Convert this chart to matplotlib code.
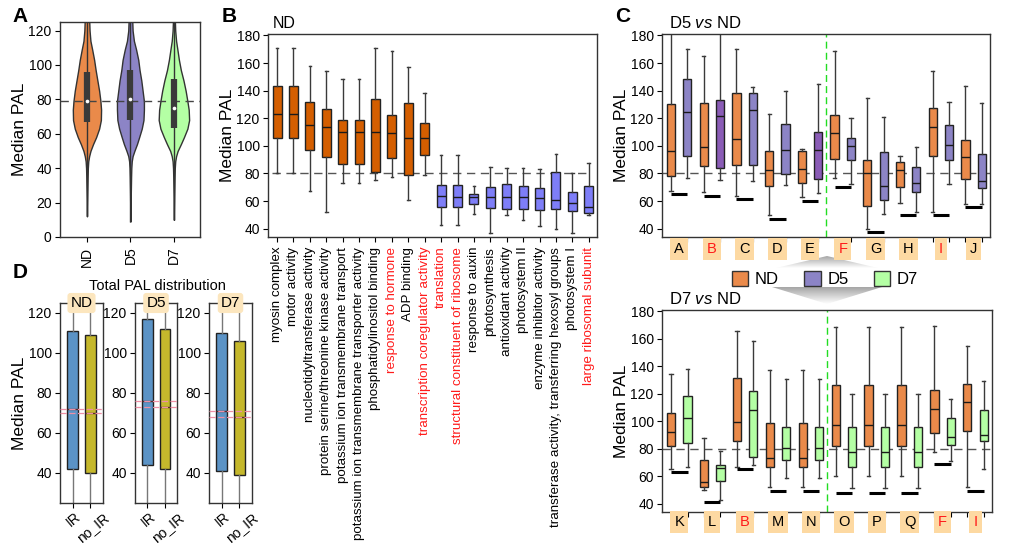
import numpy as np
import matplotlib
matplotlib.use("Agg")
import matplotlib.pyplot as plt
from matplotlib.patches import Patch, Polygon
from matplotlib.colors import LinearSegmentedColormap
import matplotlib.transforms as mtransforms

plt.rcParams['font.family'] = ['Liberation Sans', 'DejaVu Sans']
plt.rcParams['mathtext.fontset'] = 'custom'
plt.rcParams['mathtext.rm'] = 'Liberation Sans'
plt.rcParams['mathtext.it'] = 'Liberation Sans:italic'
plt.rcParams['axes.linewidth'] = 1.0
plt.rcParams['axes.edgecolor'] = '#333333'
plt.rcParams['xtick.labelsize'] = 10
plt.rcParams['ytick.labelsize'] = 10
plt.rcParams['xtick.major.size'] = 3.5
plt.rcParams['ytick.major.size'] = 3.5
plt.rcParams['ytick.major.pad'] = 2.5

# ------------------------------------------------------------------ data
# Panel A: violin outlines (y level, half width) and inner box stats
a_groups = ['ND', 'D5', 'D7']
a_y_nd = [12, 25, 35, 40, 44, 47, 50, 54, 58, 63, 68, 74, 79, 85, 91, 97, 103, 109, 114, 120, 127]
a_w_nd = [0, .008, .015, .02, .03, .05, .08, .14, .21, .28, .32, .325, .31, .28, .24, .20, .165, .12, .08, .06, .05]
a_y_d5 = [9, 25, 35, 40, 44, 47, 50, 54, 58, 63, 68, 74, 79, 85, 91, 97, 103, 109, 114, 120, 127]
a_w_d5 = [0, .008, .015, .02, .03, .05, .09, .15, .20, .26, .30, .31, .31, .28, .25, .21, .18, .13, .08, .05, .04]
a_y_d7 = [10, 25, 35, 40, 44, 47, 50, 54, 58, 63, 68, 74, 79, 85, 91, 97, 103, 109, 114, 120, 127]
a_w_d7 = [0, .008, .015, .02, .03, .05, .085, .16, .23, .31, .35, .34, .31, .27, .22, .16, .115, .08, .05, .03, .02]
a_q1 = [67, 68, 63.5]
a_med = [79, 80, 75]
a_q3 = [96, 97, 92]
a_ref = 79

# Panel B: GO terms (whislo, q1, med, q3, whishi)
b_terms = ['myosin complex', 'motor activity', 'nucleotidyltransferase activity',
           'protein serine/threonine kinase activity', 'potassium ion transmembrane transport',
           'potassium ion transmembrane transporter activity', 'phosphatidylinositol binding',
           'response to hormone', 'ADP binding', 'transcription coregulator activity',
           'translation', 'structural constituent of ribosome', 'response to auxin',
           'photosynthesis', 'antioxidant activity', 'photosystem II', 'enzyme inhibitor activity',
           'transferase activity, transferring hexosyl groups', 'photosystem I',
           'large ribosomal subunit']
b_red = ['response to hormone', 'transcription coregulator activity', 'translation',
         'structural constituent of ribosome', 'large ribosomal subunit']
b_whislo = [80, 80, 67, 52, 73, 73, 75, 77.5, 61, 79, 43, 43, 51, 37, 50, 46, 42, 40, 37, 50]
b_q1 = [106, 106, 97, 92, 87, 87, 81, 91, 79, 93.5, 56, 56, 58, 55, 54, 54, 53.5, 54.5, 53, 51.5]
b_med = [123, 123, 115, 114, 110, 110, 110, 109, 106, 106, 64, 63, 63, 63, 63, 63, 62, 61, 58.5, 55.5]
b_q3 = [143, 143, 132, 127, 119, 119, 134, 122, 131, 116.5, 72, 72, 65, 70, 72.5, 71, 69.5, 81, 66.5, 71]
b_whishi = [171, 171, 158, 154.5, 148.5, 148.5, 171, 168.5, 157, 138, 93.5, 93.5, 71, 85, 84, 84, 83, 94, 80, 87.5]

# Panel C top: D5 vs ND
c1_groups = ['A', 'B', 'C', 'D', 'E', 'F', 'G', 'H', 'I', 'J']
c1_nd_whislo = [67, 66.5, 63.5, 50, 63, 77, 40, 58.7, 52, 58]
c1_nd_q1 = [78, 85.5, 86.3, 71, 73, 90.7, 56.3, 70, 92.3, 76]
c1_nd_med = [96, 99, 105, 82.3, 83.5, 109, 80, 82.7, 113.7, 92]
c1_nd_q3 = [130, 131, 138, 96.5, 96, 122.4, 90, 88, 127.2, 104]
c1_nd_whishi = [185, 165, 170, 123, 97.6, 168.5, 135, 93, 154.3, 143.7]
c1_d5_whislo = [76.7, 75.5, 74.8, 71.7, 66, 72.7, 51, 52, 72.7, 58]
c1_d5_q1 = [92.8, 84, 86, 79.4, 76.3, 89.7, 60.6, 66.6, 89.5, 69.5]
c1_d5_med = [124.5, 121.6, 126, 97, 96.7, 100, 70.7, 73, 100.7, 74.8]
c1_d5_q3 = [148.3, 133, 138.5, 115.6, 110, 105.8, 95.7, 85, 115.2, 94.3]
c1_d5_whishi = [170, 185, 142.3, 139.7, 145, 120, 121, 99.5, 132, 130.8]
c1_floor = [65.2, 64, 61.6, 47.2, 60.4, 70, 37.6, 49.6, 49.6, 55.6]

# Panel C bottom: D7 vs ND
c2_groups = ['K', 'L', 'B', 'M', 'N', 'O', 'P', 'Q', 'F', 'I']
c2_nd_whislo = [65, 50.2, 67, 52, 52, 60, 60, 60, 77.8, 52]
c2_nd_q1 = [82, 52, 86, 67, 67, 82, 82, 82, 91.2, 92.7]
c2_nd_med = [92, 55.8, 99.3, 73, 73, 97.2, 97.2, 97.2, 109.2, 114]
c2_nd_q3 = [106.3, 71.5, 131.4, 99, 99, 126.6, 126.6, 126.6, 122.6, 127.4]
c2_nd_whishi = [134.3, 87.8, 165.4, 137.6, 137.6, 168.5, 168.5, 168.5, 169, 155]
c2_d7_whislo = [67, 43, 68.2, 58.5, 58.5, 51.3, 51.3, 51.3, 71.4, 65.6]
c2_d7_q1 = [84.2, 56.2, 74.2, 72.2, 72.2, 66.8, 66.8, 66.8, 82.4, 86]
c2_d7_med = [102.3, 65.8, 108.4, 80.5, 80.5, 78, 78, 78, 88.8, 90.3]
c2_d7_q3 = [118.3, 68.2, 122, 96.1, 96.1, 96, 96, 96, 102.5, 108]
c2_d7_whishi = [137.9, 78.5, 158.5, 131, 131, 119.9, 119.9, 119.9, 116.3, 129]
c2_floor = [63, 41.2, 65.6, 49.6, 49.6, 48.1, 48.1, 48.1, 68.7, 49.3]
c_red = ['B', 'F', 'I']

# Panel D: total PAL distribution
d_days = ['ND', 'D5', 'D7']
d_cats = ['IR', 'no_IR']
d_ir_q1 = [42, 44, 41]
d_ir_med = [72, 76, 71]
d_ir_q3 = [111, 117, 110]
d_noir_q1 = [40, 42, 39]
d_noir_med = [70, 73, 68]
d_noir_q3 = [109, 112, 106]
d_whislo = [5, 5, 5]
d_whishi = [150, 150, 150]

# ------------------------------------------------------------------ styles
C_ND = '#EA8A4A'
C_D5 = '#8C84C6'
C_D5_DARK = '#8A5CB6'
C_D7 = '#B4FFA4'
C_B_ORANGE = '#D45E00'
C_B_BLUE = '#7E7EF8'
C_IR = '#5B93C6'
C_NOIR = '#C5B82C'
LBL_BG = '#FDD9A2'
DASH = (0, (6, 4))
YL = dict(fontsize=12.5, labelpad=1)

W, H = 1027, 543
fig = plt.figure(figsize=(W / 100, H / 100), dpi=100)


def rect(x0, y0, x1, y1):
    return [x0 / W, 1 - y1 / H, (x1 - x0) / W, (y1 - y0) / H]


def make_stats(lo, q1, med, q3, hi):
    return [dict(whislo=a, q1=b, med=c, q3=d, whishi=e) for a, b, c, d, e in zip(lo, q1, med, q3, hi)]


def boxes(ax, stats, positions, colors, width, capw, whis_col='#3a3a3a', med_col='#1a1a1a'):
    r = ax.bxp(stats, positions=positions, widths=width, patch_artist=True, showfliers=False,
               boxprops=dict(edgecolor='#222222', linewidth=1.0),
               medianprops=dict(color=med_col, linewidth=1.0),
               whiskerprops=dict(color=whis_col, linewidth=1.0),
               capprops=dict(color=whis_col, linewidth=1.0),
               capwidths=capw, manage_ticks=False)
    for b, c in zip(r['boxes'], colors):
        b.set_facecolor(c)
    return r


# ------------------------------------------------------------------ Panel A
axA = fig.add_axes(rect(60, 22, 200, 237))
vys = [a_y_nd, a_y_d5, a_y_d7]
vws = [a_w_nd, a_w_d5, a_w_d7]
vcols = [C_ND, C_D5, C_D7]
for i in range(3):
    y = np.array(vys[i])
    w = np.array(vws[i])
    axA.fill_betweenx(y, i - w, i + w, facecolor=vcols[i], edgecolor='#333333', linewidth=1.0, zorder=2)
    axA.vlines(i, y[0], y[-1], color='#333333', linewidth=1.0, zorder=3)
    axA.vlines(i, a_q1[i], a_q3[i], color='#3a3a3a', linewidth=4.5, zorder=4)
    axA.scatter([i], [a_med[i]], s=7, color='white', zorder=5, linewidths=0)
axA.axhline(a_ref, color='#444444', linestyle=DASH, linewidth=1.0, zorder=3)
axA.set_xlim(-0.62, 2.6)
axA.set_ylim(0, 125)
axA.set_yticks(range(0, 121, 20))
axA.set_xticks(range(3))
axA.set_xticklabels(a_groups, rotation=90)
axA.set_ylabel('Median PAL', **YL)

# ------------------------------------------------------------------ Panel B
axB = fig.add_axes(rect(268, 34, 597, 237))
nB = len(b_terms)
bcols = [C_B_ORANGE] * 10 + [C_B_BLUE] * 10
boxes(axB, make_stats(b_whislo, b_q1, b_med, b_q3, b_whishi), list(range(nB)), bcols, 0.55, 0.16)
axB.hlines(80, -0.3, nB - 1, color='#555555', linestyle=DASH, linewidth=1.0, zorder=0.5)
axB.set_xlim(-0.55, nB - 0.5)
axB.set_ylim(34, 181)
axB.set_yticks(range(40, 181, 20))
axB.set_xticks(range(nB))
axB.set_xticklabels(b_terms, rotation=90, fontsize=9.6)
for t in axB.get_xticklabels():
    if t.get_text() in b_red:
        t.set_color('#FF1A1A')
axB.set_ylabel('Median PAL', **YL)
axB.text(0.015, 1.015, 'ND', transform=axB.transAxes, fontsize=11.5, ha='left', va='bottom')


# ------------------------------------------------------------------ Panel C
def panel_c(ax, groups, nd, other, other_cols, floor, title, lab_y):
    n = len(groups)
    pos_nd = [2 * i for i in range(n)]
    pos_o = [2 * i + 1 for i in range(n)]
    boxes(ax, make_stats(*nd), pos_nd, [C_ND] * n, 0.5, 0.2)
    boxes(ax, make_stats(*other), pos_o, other_cols, 0.5, 0.2)
    ax.axhline(80, color='#555555', linestyle=DASH, linewidth=1.0, zorder=0.5)
    ax.axvline(2 * n / 2 - 0.5, color='#22DD22', linestyle=(0, (5, 3)), linewidth=1.0, zorder=0.6)
    ax.hlines(floor, pos_nd, pos_o, color='black', linewidth=2.2, zorder=3)
    ax.set_xlim(-0.55, 2 * n - 0.5)
    ax.set_ylim(34, 181)
    ax.set_yticks(range(40, 181, 20))
    ax.set_xticks(range(2 * n))
    ax.set_xticklabels([])
    ax.set_ylabel('Median PAL', **YL)
    tr = mtransforms.blended_transform_factory(ax.transData, ax.transAxes)
    for i, g in enumerate(groups):
        t = ax.text(2 * i + 0.5, lab_y, g, transform=tr, ha='center', va='center', fontsize=10.5,
                    color='#FF1A1A' if g in c_red else 'black',
                    bbox=dict(boxstyle='square,pad=0.28', facecolor=LBL_BG, edgecolor='none'))
        t.set_clip_on(False)
    ax.text(0.02, 1.015, title, transform=ax.transAxes, fontsize=12, ha='left', va='bottom')


axC1 = fig.add_axes(rect(662, 34, 990, 237))
c1_cols = [C_D5_DARK if g in ('B', 'E') else C_D5 for g in c1_groups]
panel_c(axC1, c1_groups,
        (c1_nd_whislo, c1_nd_q1, c1_nd_med, c1_nd_q3, c1_nd_whishi),
        (c1_d5_whislo, c1_d5_q1, c1_d5_med, c1_d5_q3, c1_d5_whishi),
        c1_cols, c1_floor, r'D5 $\mathit{vs}$ ND', -0.06)

axC2 = fig.add_axes(rect(662, 310, 992, 512))
panel_c(axC2, c2_groups,
        (c2_nd_whislo, c2_nd_q1, c2_nd_med, c2_nd_q3, c2_nd_whishi),
        (c2_d7_whislo, c2_d7_q1, c2_d7_med, c2_d7_q3, c2_d7_whishi),
        [C_D7] * len(c2_groups), c2_floor, r'D7 $\mathit{vs}$ ND', -0.05)

# gradient arrow behind legend
ov = fig.add_axes([0, 0, 1, 1], zorder=-1)
ov.set_xlim(0, W)
ov.set_ylim(H, 0)
ov.axis('off')
ov.patch.set_visible(False)
cmap = LinearSegmentedColormap.from_list('g', ['#ffffff', '#a5a5a5'])
grad = np.linspace(0, 1, 64).reshape(-1, 1)
top = Polygon([(776, 268), (827, 256), (878, 268)], closed=True, transform=ov.transData)
im1 = ov.imshow(grad[::-1], extent=(776, 878, 268, 256), cmap=cmap, aspect='auto', vmin=0, vmax=1)
im1.set_clip_path(top)
bot = Polygon([(772, 287), (882, 287), (827, 304)], closed=True, transform=ov.transData)
im2 = ov.imshow(grad, extent=(772, 882, 287, 304), cmap=cmap, aspect='auto', vmin=0, vmax=1)
im2.set_clip_path(bot)

handles = [Patch(facecolor=C_ND, edgecolor='#333333'),
           Patch(facecolor=C_D5, edgecolor='#333333'),
           Patch(facecolor=C_D7, edgecolor='#333333')]
fig.legend(handles, ['ND', 'D5', 'D7'], loc='center', bbox_to_anchor=(825 / W, 1 - 279 / H),
           ncol=3, frameon=False, fontsize=12, handlelength=1.0, handleheight=1.0,
           handletextpad=0.4, columnspacing=1.5)

# ------------------------------------------------------------------ Panel D
d_rects = [(60, 303, 103, 503), (135, 303, 177, 503), (209, 303, 252, 503)]
d_lab_dx = [1.5 / 72, 9 / 72]
for k, day in enumerate(d_days):
    ax = fig.add_axes(rect(*d_rects[k]))
    st = make_stats([d_whislo[k]] * 2, [d_ir_q1[k], d_noir_q1[k]], [d_ir_med[k], d_noir_med[k]],
                    [d_ir_q3[k], d_noir_q3[k]], [d_whishi[k]] * 2)
    boxes(ax, st, [0, 1], [C_IR, C_NOIR], 0.6, 0.0, whis_col='#777777', med_col='#5A2E2E')
    for m in (d_ir_med[k], d_noir_med[k]):
        ax.axhline(m, color='#EE8FA5', linestyle=(0, (5, 2)), linewidth=0.9, zorder=4)
    ax.set_xlim(-0.7, 1.7)
    ax.set_ylim(25, 125)
    ax.set_yticks(range(40, 121, 20))
    ax.set_xticks([0, 1])
    ax.tick_params(axis='x', pad=1.5)
    ax.set_xticklabels(d_cats, rotation=40, ha='right', va='top', rotation_mode='anchor', fontsize=10)
    for lab, dx in zip(ax.get_xticklabels(), d_lab_dx):
        lab.set_transform(lab.get_transform() + mtransforms.ScaledTranslation(dx, 0, fig.dpi_scale_trans))
    ax.text(0.5, 1.0, day, transform=ax.transAxes, ha='center', va='center', fontsize=11,
            bbox=dict(boxstyle='round,pad=0.2', facecolor='#FCE6BE', edgecolor='none'), zorder=6)
    if k == 0:
        ax.set_ylabel('Median PAL', **YL)

fig.text(157 / W, 1 - 286 / H, 'Total PAL distribution', ha='center', va='center', fontsize=10.5)

# panel letters
for lab, x, y in [('A', 20, 17), ('B', 229, 17), ('C', 623, 17), ('D', 20, 272)]:
    fig.text(x / W, 1 - y / H, lab, fontsize=15, fontweight='bold', ha='center', va='center')

fig.savefig('out.png', dpi=100)
